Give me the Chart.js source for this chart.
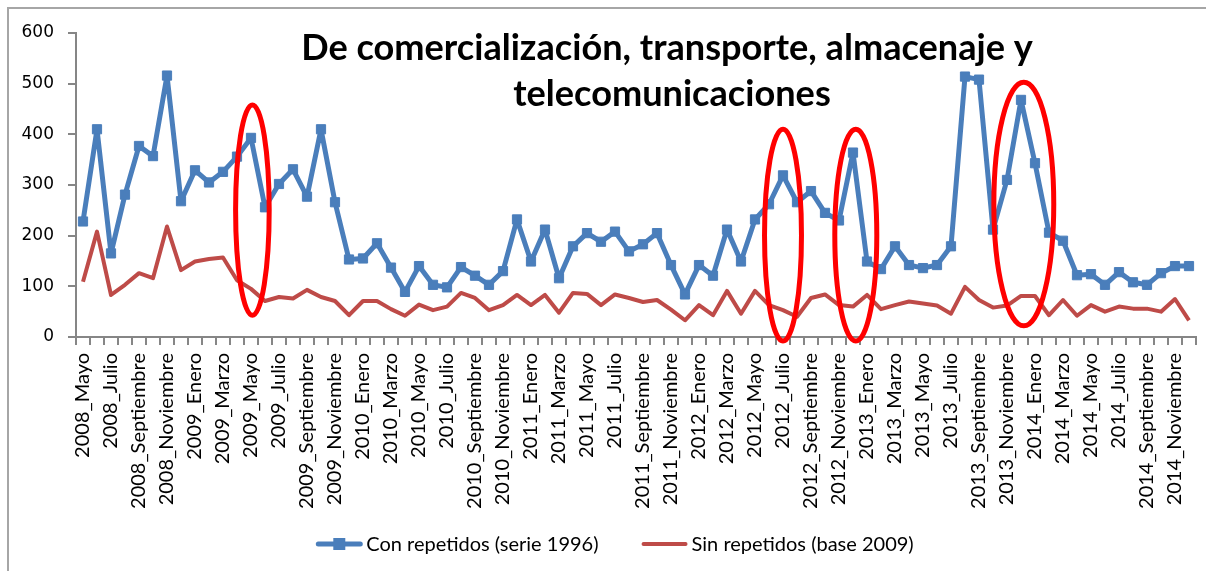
<!DOCTYPE html>
<html>
<head>
<meta charset="utf-8">
<script src="https://cdn.jsdelivr.net/npm/chart.js@4.4.1/dist/chart.umd.min.js"></script>
<style>
  html, body { margin: 0; padding: 0; background: #fff; }
  #wrap { position: relative; width: 1206px; height: 571px; }
</style>
</head>
<body>
<div id="wrap"><canvas id="grafica" width="1206" height="571"></canvas></div>
<script>
// periodos: mayo 2008 a diciembre 2014
var anios = [2008, 2009, 2010, 2011, 2012, 2013, 2014];
var meses = ['Enero', 'Febrero', 'Marzo', 'Abril', 'Mayo', 'Junio', 'Julio',
             'Agosto', 'Septiembre', 'Octubre', 'Noviembre', 'Diciembre'];

var con_repetidos = [
    228, 410, 165, 281, 377, 357, 516, 268, 329, 305, 326, 356, 393, 256, 302, 331, 277, 410, 266, 153,
    155, 185, 137, 89, 140, 103, 98, 138, 121, 103, 130, 232, 149, 212, 116, 179, 205, 188, 208, 169,
    183, 205, 142, 84, 142, 121, 212, 149, 232, 262, 319, 266, 288, 245, 230, 364, 149, 134, 179, 142,
    136, 142, 179, 514, 508, 212, 310, 468, 343, 206, 190, 122, 124, 103, 128, 108, 103, 126, 140, 140
];

var sin_repetidos = [
    109, 208, 83, 103, 126, 116, 218, 132, 149, 154, 157, 112, 95, 71, 79, 76, 93, 79, 71, 43,
    71, 71, 55, 42, 64, 53, 60, 87, 77, 53, 63, 83, 63, 83, 48, 87, 85, 63, 84, 77,
    69, 73, 54, 33, 63, 43, 91, 46, 91, 63, 53, 40, 77, 84, 63, 60, 83, 55, 63, 70,
    66, 62, 46, 99, 73, 58, 62, 81, 81, 43, 73, 42, 63, 50, 60, 56, 56, 50, 75, 33
];

var titulo = ['De comercialización, transporte, almacenaje y', 'telecomunicaciones'];

// elipses rojas marcadas a mano: centro en indice de periodo, medio ancho en periodos, valores arriba/abajo
var elipses = [
    { centro: 12.1, ancho: 1.2, arriba: 458, abajo: 43 },
    { centro: 50.0, ancho: 1.32, arriba: 410, abajo: -8 },
    { centro: 55.2, ancho: 1.5, arriba: 410, abajo: -8 },
    { centro: 67.2, ancho: 2.14, arriba: 503, abajo: 22 }
];

var etiquetas = [];
function llenarEtiquetas() {
    for (var i = 0; i < anios.length; i++) {
        for (var m = 0; m < meses.length; m++) {
            if (anios[i] == 2008 && m < 4) continue;
            etiquetas.push(anios[i] + '_' + meses[m]);
        }
    }
}

var gris = '#868686';

var marco = {
    id: 'marco',
    beforeDraw: function(chart) {
        var ctx = chart.ctx;
        ctx.save();
        ctx.fillStyle = '#fff';
        ctx.fillRect(0, 0, chart.width, chart.height);
        ctx.strokeStyle = '#a6a6a6';
        ctx.lineWidth = 2;
        ctx.strokeRect(8, 8, chart.width + 20, chart.height + 20);
        ctx.restore();
    }
};

var encabezado = {
    id: 'encabezado',
    afterDraw: function(chart) {
        var ctx = chart.ctx;
        ctx.save();
        var size = 36;
        ctx.font = 'bold ' + size + 'px Lato';
        var w = ctx.measureText(titulo[0]).width;
        size = size * 732 / w;
        ctx.font = 'bold ' + size + 'px Lato';
        ctx.fillStyle = '#000';
        ctx.textAlign = 'center';
        ctx.textBaseline = 'alphabetic';
        ctx.fillText(titulo[0], 667, 60);
        ctx.fillText(titulo[1], 672, 106);
        ctx.restore();
    }
};

var marcas = {
    id: 'marcas',
    afterDatasetsDraw: function(chart) {
        var ctx = chart.ctx;
        var x = chart.scales.x, y = chart.scales.y;
        var paso = x.getPixelForValue(1) - x.getPixelForValue(0);
        ctx.save();
        ctx.strokeStyle = '#ff0000';
        ctx.lineWidth = 5;
        elipses.forEach(function(e) {
            var cx = x.getPixelForValue(e.centro);
            var top = y.getPixelForValue(e.arriba);
            var bottom = y.getPixelForValue(e.abajo);
            ctx.beginPath();
            ctx.ellipse(cx, (top + bottom) / 2, e.ancho * paso, (bottom - top) / 2, 0, 0, Math.PI * 2);
            ctx.stroke();
        });
        ctx.restore();
    }
};

var leyenda = {
    id: 'leyenda',
    afterDraw: function(chart) {
        var ctx = chart.ctx;
        ctx.save();
        ctx.font = '20px Lato';
        var muestra = 46, sep = 4, hueco = 43;
        var items = chart.data.datasets.map(function(ds) {
            return { ds: ds, w: ctx.measureText(ds.label).width };
        });
        var total = hueco * (items.length - 1);
        items.forEach(function(it) { total += muestra + sep + it.w; });
        var x = 615 - total / 2, y = 544;
        items.forEach(function(it) {
            ctx.strokeStyle = it.ds.borderColor;
            ctx.lineWidth = it.ds.borderWidth;
            ctx.lineCap = 'round';
            ctx.beginPath();
            ctx.moveTo(x + 2, y);
            ctx.lineTo(x + muestra - 2, y);
            ctx.stroke();
            if (it.ds.pointRadius > 0) {
                ctx.fillStyle = it.ds.pointBackgroundColor;
                ctx.fillRect(x + muestra / 2 - 6, y - 6, 12, 12);
            }
            ctx.fillStyle = '#000';
            ctx.textAlign = 'left';
            ctx.textBaseline = 'middle';
            ctx.fillText(it.ds.label, x + muestra + sep, y + 1);
            x += muestra + sep + it.w + hueco;
        });
        ctx.restore();
    }
};

function dibujar() {
    llenarEtiquetas();
    Chart.defaults.font.family = 'Lato';
    Chart.defaults.color = '#000';
    var ctx = document.getElementById('grafica').getContext('2d');
    new Chart(ctx, {
        type: 'line',
        data: {
            labels: etiquetas,
            datasets: [{
                label: 'Con repetidos (serie 1996)',
                data: con_repetidos,
                borderColor: '#4a7ebb',
                backgroundColor: '#4a7ebb',
                pointBackgroundColor: '#4a7ebb',
                pointBorderColor: '#4a7ebb',
                pointStyle: 'rect',
                pointRadius: 6.5,
                pointBorderWidth: 1,
                borderWidth: 5,
                borderJoinStyle: 'round',
                tension: 0,
                fill: false,
                order: 1
            }, {
                label: 'Sin repetidos (base 2009)',
                data: sin_repetidos,
                borderColor: '#be4b48',
                backgroundColor: '#be4b48',
                pointRadius: 0,
                borderWidth: 4,
                borderJoinStyle: 'round',
                tension: 0,
                fill: false,
                order: 2
            }]
        },
        options: {
            responsive: false,
            animation: false,
            layout: {
                padding: { left: 0, right: 10, top: 33, bottom: 54 }
            },
            plugins: {
                legend: { display: false },
                title: { display: false },
                tooltip: { enabled: false }
            },
            scales: {
                x: {
                    offset: true,
                    grid: {
                        offset: true,
                        drawOnChartArea: false,
                        drawTicks: true,
                        tickLength: 8,
                        color: gris,
                        lineWidth: 2
                    },
                    border: { display: true, color: gris, width: 2 },
                    ticks: {
                        autoSkip: false,
                        minRotation: 90,
                        maxRotation: 90,
                        padding: 8,
                        font: { size: 20 },
                        callback: function(val, index) {
                            return index % 2 === 0 ? this.getLabelForValue(val) : '';
                        }
                    },
                    afterFit: function(scale) {
                        scale.height = 180;
                        scale.paddingLeft = 0;
                        scale.paddingRight = 0;
                    }
                },
                y: {
                    min: 0,
                    max: 600,
                    grid: {
                        drawOnChartArea: false,
                        drawTicks: true,
                        tickLength: 8,
                        color: gris,
                        lineWidth: 2
                    },
                    border: { display: true, color: gris, width: 2 },
                    ticks: {
                        stepSize: 100,
                        padding: 14,
                        font: { family: 'DejaVu Sans', size: 17 }
                    },
                    afterFit: function(scale) {
                        scale.width = 76;
                    }
                }
            }
        },
        plugins: [marco, marcas, encabezado, leyenda]
    });
}

document.fonts.load('bold 20px Lato').then(dibujar, dibujar);
</script>
</body>
</html>
